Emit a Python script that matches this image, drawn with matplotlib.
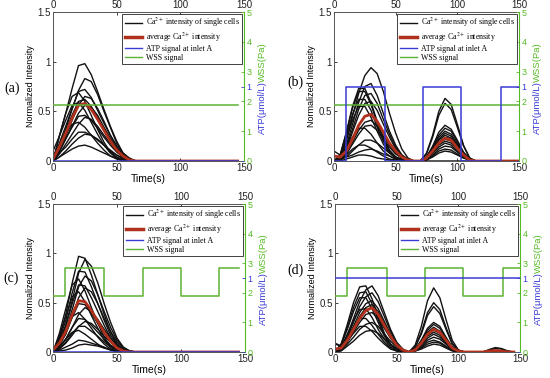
import matplotlib
matplotlib.use('Agg')
import matplotlib.pyplot as plt
from matplotlib.lines import Line2D

plt.rcParams['font.family'] = ['Liberation Sans', 'DejaVu Sans']
plt.rcParams['mathtext.fontset'] = 'stix'

# ---------------- data ----------------
# panel (a)
t_a = [0, 5, 10, 15, 20, 25, 30, 35, 40, 45, 50, 55, 60, 65, 145]
cells_a = [
    [0, .25, .48, .73, .96, .98, .87, .70, .52, .35, .20, .08, .02, 0, 0],
    [0, .13, .32, .52, .71, .83, .80, .67, .50, .34, .18, .08, .03, 0, 0],
    [0, .18, .35, .53, .70, .72, .64, .51, .38, .26, .15, .06, .01, 0, 0],
    [0, .25, .48, .65, .69, .60, .46, .32, .19, .09, .04, .01, 0, 0, 0],
    [0, .10, .25, .41, .56, .65, .63, .53, .40, .26, .15, .07, .02, 0, 0],
    [0, .16, .30, .46, .60, .62, .55, .44, .33, .22, .13, .05, .01, 0, 0],
    [.10, .25, .41, .56, .59, .51, .39, .27, .16, .08, .03, .01, 0, 0, 0],
    [0, .09, .22, .35, .48, .56, .54, .46, .34, .23, .13, .06, .02, 0, 0],
    [0, .12, .23, .34, .45, .46, .41, .33, .24, .16, .09, .04, .01, 0, 0],
    [0, .07, .17, .27, .37, .44, .42, .35, .26, .18, .10, .04, .01, 0, 0],
    [.05, .14, .27, .37, .39, .34, .26, .18, .11, .05, .02, 0, 0, 0, 0],
    [0, .08, .14, .22, .29, .29, .26, .21, .16, .10, .06, .02, 0, 0, 0],
    [0, .04, .10, .17, .23, .27, .26, .22, .16, .11, .06, .03, .01, 0, 0],
    [0, .04, .08, .12, .15, .16, .14, .11, .08, .05, .03, .01, 0, 0, 0],
]
avg_a = [.02, .14, .28, .43, .56, .58, .52, .42, .31, .20, .11, .05, .01, 0, 0]
atp_t_a = [0, 145]
atp_v_a = [0, 0]
wss_t_a = [0, 145]
wss_v_a = [1.88, 1.88]

# panel (b)
t_b = [0, 5, 10, 15, 20, 25, 30, 35, 40, 45, 50, 55, 60, 65,
       70, 75, 80, 85, 90, 95, 100, 105, 110, 115, 150]
cells_b = [
    [0, .02, .20, .45, .68, .86, .94, .88, .70, .48, .28, .12, .03, 0, 0, .08, .26, .50, .63, .57, .37, .16, .03, 0, 0],
    [0, .02, .16, .37, .59, .75, .78, .66, .48, .30, .16, .06, .02, 0, 0, .07, .24, .46, .58, .52, .34, .15, .03, 0, 0],
    [0, .06, .29, .55, .73, .73, .59, .40, .23, .11, .04, .01, 0, 0, 0, .04, .15, .29, .36, .32, .21, .09, .02, 0, 0],
    [0, .06, .28, .53, .70, .70, .57, .38, .22, .10, .04, .01, 0, 0, 0, .04, .14, .26, .33, .30, .19, .08, .02, 0, 0],
    [0, .02, .14, .32, .52, .66, .68, .58, .42, .27, .14, .06, .01, 0, 0, .04, .13, .24, .30, .27, .17, .08, .02, 0, 0],
    [0, .05, .25, .47, .62, .62, .51, .34, .20, .09, .03, .01, 0, 0, 0, .03, .12, .22, .28, .25, .16, .07, .01, 0, 0],
    [0, .02, .12, .29, .46, .58, .60, .51, .37, .24, .12, .05, .01, 0, 0, .03, .11, .21, .26, .23, .15, .07, .01, 0, 0],
    [0, .05, .22, .41, .55, .55, .44, .30, .17, .08, .03, .01, 0, 0, 0, .03, .10, .19, .24, .22, .14, .06, .01, 0, 0],
    [0, .01, .08, .19, .31, .39, .41, .35, .25, .16, .08, .03, .01, 0, 0, .03, .09, .18, .22, .20, .13, .06, .01, 0, 0],
    [0, .01, .07, .17, .27, .35, .36, .31, .22, .14, .07, .03, .01, 0, 0, .02, .08, .16, .20, .18, .12, .05, .01, 0, 0],
    [0, .03, .13, .24, .33, .33, .27, .18, .10, .05, .02, 0, 0, 0, 0, .02, .08, .14, .18, .16, .10, .05, .01, 0, 0],
    [0, .01, .04, .10, .16, .21, .21, .18, .13, .08, .04, .02, 0, 0, 0, .02, .06, .12, .15, .14, .09, .04, .01, 0, 0],
    [0, .01, .06, .12, .16, .16, .13, .09, .05, .02, .01, 0, 0, 0, 0, .01, .05, .10, .12, .11, .07, .03, .01, 0, 0],
    [.10, .06, .04, .06, .09, .11, .12, .10, .07, .05, .02, .01, 0, 0, 0, .01, .04, .08, .10, .09, .06, .03, .01, 0, 0],
    [0, 0, .02, .04, .06, .06, .05, .03, .02, .01, 0, 0, 0, 0, 0, 0, 0, 0, 0, 0, 0, 0, 0, 0, 0],
]
avg_b = [.05, .04, .10, .22, .36, .45, .47, .40, .29, .18, .10, .04, .01, 0,
         0, .03, .10, .18, .23, .21, .13, .06, .01, 0, 0]
atp_t_b = [0, 10, 41.5, 72.5, 103, 135, 150]
atp_v_b = [0, 1, 0, 1, 0, 1, 1]
wss_t_b = [0, 150]
wss_v_b = [1.88, 1.88]

# panel (c)
t_c = [0, 5, 10, 15, 20, 25, 30, 35, 40, 45, 50, 55, 60, 65, 145]
cells_c = [
    [0, .15, .38, .70, .97, .95, .78, .58, .38, .20, .08, .02, 0, 0, 0],
    [0, .10, .27, .52, .80, .94, .87, .70, .49, .30, .14, .05, .01, 0, 0],
    [0, .13, .32, .60, .82, .81, .66, .49, .32, .17, .07, .02, 0, 0, 0],
    [0, .08, .22, .43, .66, .77, .72, .58, .41, .25, .12, .04, .01, 0, 0],
    [0, .19, .44, .68, .74, .62, .45, .29, .15, .06, .02, 0, 0, 0, 0],
    [0, .11, .27, .49, .68, .67, .55, .41, .27, .14, .06, .01, 0, 0, 0],
    [0, .07, .18, .36, .55, .65, .61, .49, .34, .21, .10, .03, .01, 0, 0],
    [0, .16, .36, .56, .61, .51, .37, .24, .12, .05, .01, 0, 0, 0, 0],
    [0, .08, .19, .35, .49, .48, .39, .29, .19, .10, .04, .01, 0, 0, 0],
    [0, .05, .13, .25, .38, .45, .41, .33, .23, .14, .07, .02, 0, 0, 0],
    [0, .10, .23, .36, .40, .33, .24, .15, .08, .03, .01, 0, 0, 0, 0],
    [0, .05, .13, .25, .34, .33, .27, .20, .13, .07, .03, .01, 0, 0, 0],
    [0, .03, .09, .17, .26, .31, .29, .23, .16, .10, .05, .02, 0, 0, 0],
    [0, .04, .10, .19, .26, .26, .21, .16, .10, .05, .02, 0, 0, 0, 0],
    [0, .06, .13, .20, .22, .18, .13, .08, .04, .02, 0, 0, 0, 0, 0],
    [0, .02, .05, .08, .12, .11, .09, .07, .05, .02, .01, 0, 0, 0, 0],
    [0, .01, .02, .04, .07, .08, .07, .06, .04, .03, .01, 0, 0, 0, 0],
]
avg_c = [.02, .09, .21, .38, .52, .51, .42, .31, .20, .11, .04, .01, 0, 0, 0]
atp_t_c = [0, 145]
atp_v_c = [0, 0]
wss_t_c = [0, 9, 40, 70, 100, 130, 145]
wss_v_c = [1.88, 2.84, 1.88, 2.84, 1.88, 2.84, 2.84]

# panel (d)
t_d = [0, 5, 10, 15, 20, 25, 30, 35, 40, 45, 50, 55,
       60, 65, 70, 75, 80, 85, 90, 95, 100,
       105, 110, 115, 120, 125, 130, 135, 140, 145]
cells_d = [
    [0, .08, .28, .50, .66, .67, .54, .36, .19, .08, .03, .01, 0, .07, .26, .52, .65, .55, .33, .12, .02, 0, 0, 0, 0, 0, 0, 0, 0, 0],
    [0, .04, .17, .34, .51, .63, .67, .57, .40, .23, .10, .03, 0, .05, .20, .40, .50, .43, .25, .09, .02, 0, 0, 0, 0, 0, 0, 0, 0, 0],
    [0, .08, .25, .45, .60, .61, .49, .33, .18, .08, .03, .01, 0, .05, .18, .37, .46, .39, .23, .08, .01, 0, 0, 0, 0, 0, 0, 0, 0, 0],
    [.09, .06, .15, .30, .46, .56, .60, .51, .36, .21, .09, .02, 0, .03, .12, .24, .30, .26, .15, .05, .01, 0, 0, 0, 0, 0, 0, 0, 0, 0],
    [0, .07, .23, .41, .55, .55, .44, .30, .16, .07, .02, .01, 0, .03, .11, .22, .28, .24, .14, .05, .01, 0, 0, 0, 0, 0, 0, 0, 0, 0],
    [0, .03, .13, .26, .40, .49, .52, .44, .31, .18, .08, .02, 0, .03, .10, .20, .25, .21, .13, .05, .01, 0, 0, 0, 0, 0, 0, 0, 0, 0],
    [0, .03, .12, .24, .36, .45, .48, .41, .29, .17, .07, .02, 0, .02, .09, .18, .22, .19, .11, .04, .01, 0, 0, 0, 0, .025, .045, .035, .01, 0],
    [0, .05, .18, .32, .43, .44, .35, .23, .13, .05, .02, 0, 0, .02, .08, .16, .20, .17, .10, .04, .01, 0, 0, 0, 0, 0, 0, 0, 0, 0],
    [0, .02, .10, .20, .30, .38, .40, .34, .24, .14, .06, .02, 0, .02, .07, .14, .18, .15, .09, .03, 0, 0, 0, 0, 0, 0, 0, 0, 0, 0],
    [.08, .06, .14, .25, .34, .34, .27, .18, .10, .04, .01, 0, 0, .02, .06, .12, .15, .13, .08, .03, 0, 0, 0, 0, 0, .02, .035, .03, .01, 0],
    [0, .02, .08, .15, .23, .28, .30, .26, .18, .11, .05, .01, 0, .01, .05, .10, .12, .10, .06, .02, 0, 0, 0, 0, 0, 0, 0, 0, 0, 0],
    [0, .03, .11, .19, .26, .26, .21, .14, .08, .03, .01, 0, 0, .01, .04, .08, .10, .09, .05, .02, 0, 0, 0, 0, 0, 0, 0, 0, 0, 0],
    [0, .01, .06, .11, .17, .21, .22, .19, .13, .08, .03, .01, 0, .01, .03, .06, .08, .07, .04, .01, 0, 0, 0, 0, 0, 0, 0, 0, 0, 0],
]
avg_d = [.03, .04, .12, .23, .34, .42, .45, .38, .27, .16, .07, .02,
         0, .02, .09, .18, .23, .20, .12, .04, .01,
         0, 0, 0, 0, .01, .015, .01, 0, 0]
atp_t_d = [0, 150]
atp_v_d = [1, 1]
wss_t_d = [0, 10, 42, 73, 104, 136, 150]
wss_v_d = [1.88, 2.84, 1.88, 2.84, 1.88, 2.84, 2.84]

panel_labels = ['(a)', '(b)', '(c)', '(d)']
legend_labels = [r'Ca$^{2+}$ intensity of single cells',
                 r'average Ca$^{2+}$ intensity',
                 'ATP signal at inlet A',
                 'WSS signal']

# ---------------- style ----------------
BLACK = '#111111'
RED = '#b0301c'
BLUE = '#3a3ad8'
GREEN = '#5cb233'
GREEN_T = '#55bb22'
SPINE = '#555555'

W, H = 550, 378
fig = plt.figure(figsize=(W / 100, H / 100), dpi=100)


def px_rect(l, r, t, b):
    return [l / W, 1 - b / H, (r - l) / W, (b - t) / H]


rects = [px_rect(53, 244, 12, 161), px_rect(334, 519, 12, 161),
         px_rect(53, 245, 204, 352), px_rect(335, 520, 204, 352)]
label_pos = [(12, 88), (295, 82), (11, 278), (295, 270)]

panels = [
    (t_a, cells_a, avg_a, atp_t_a, atp_v_a, wss_t_a, wss_v_a),
    (t_b, cells_b, avg_b, atp_t_b, atp_v_b, wss_t_b, wss_v_b),
    (t_c, cells_c, avg_c, atp_t_c, atp_v_c, wss_t_c, wss_v_c),
    (t_d, cells_d, avg_d, atp_t_d, atp_v_d, wss_t_d, wss_v_d),
]

for i, (t, cells, avg, at, av, wt, wv) in enumerate(panels):
    rect = rects[i]
    ax = fig.add_axes(rect)
    for c in cells:
        ax.plot(t, c, color=BLACK, lw=1.0)
    ax.plot(t, avg, color=RED, lw=2.0)
    ax.set_xlim(0, 150)
    ax.set_ylim(0, 1.5)
    ax.set_xticks([0, 50, 100, 150])
    ax.set_yticks([0, 0.5, 1, 1.5])
    ax.set_yticklabels(['0', '0.5', '1', '1.5'])
    ax.tick_params(direction='in', top=True, labeltop=True, right=False,
                   labelsize=7, length=2.5, pad=1.5, width=0.6, colors='#222222')
    ax.set_xlabel('Time(s)', fontsize=7.5, labelpad=1)
    ax.set_ylabel('Normalized Intensity', fontsize=6.5, labelpad=2)
    for s in ['left', 'top', 'bottom']:
        ax.spines[s].set_color(SPINE)
        ax.spines[s].set_linewidth(0.7)
    ax.spines['right'].set_visible(False)

    axw = ax.twinx()
    axw.set_ylim(0, 5)
    axw.set_yticks([0, 1, 2, 3, 4, 5])
    axw.tick_params(direction='in', labelsize=6.5, length=2.5, pad=2,
                    colors=GREEN_T, width=0.6)
    for s in ['left', 'top', 'bottom']:
        axw.spines[s].set_visible(False)
    axw.spines['right'].set_color(GREEN_T)
    axw.spines['right'].set_linewidth(0.8)
    axw.plot(wt, wv, drawstyle='steps-post', color=GREEN, lw=1.1)

    axa = ax.twinx()
    axa.set_ylim(0, 2)
    axa.set_yticks([0, 1])
    axa.set_yticklabels(['', '1'])
    axa.tick_params(direction='in', labelsize=6.5, length=2.5, pad=2,
                    colors=BLUE, width=0.6)
    for s in axa.spines.values():
        s.set_visible(False)
    axa.plot(at, av, drawstyle='steps-post', color=BLUE, lw=1.1)

    wpx = rect[2] * W
    xo = 1 + 18 / wpx
    ax.text(xo, 0.36, 'ATP(μmol/L)', rotation=90, color=BLUE, fontsize=6.8,
            ha='center', va='center', transform=ax.transAxes)
    ax.text(xo, 0.665, 'WSS(Pa)', rotation=90, color=GREEN_T, fontsize=6.8,
            ha='center', va='center', transform=ax.transAxes)

    handles = [Line2D([], [], color=BLACK, lw=1.0),
               Line2D([], [], color=RED, lw=2.5),
               Line2D([], [], color=BLUE, lw=1.0),
               Line2D([], [], color=GREEN, lw=1.0)]
    leg = axa.legend(handles, legend_labels, loc='upper right',
                     prop={'family': 'Liberation Serif', 'size': 5.7},
                     fancybox=False, framealpha=1, edgecolor='#222222',
                     borderaxespad=0.2, handlelength=2.2, handletextpad=0.5,
                     labelspacing=0.12, borderpad=0.3)
    leg.get_frame().set_linewidth(0.6)

    lx, ly = label_pos[i]
    fig.text(lx / W, 1 - ly / H, panel_labels[i], fontsize=10,
             family=['Liberation Serif'], ha='center', va='center')

fig.savefig('out.png', dpi=100)
